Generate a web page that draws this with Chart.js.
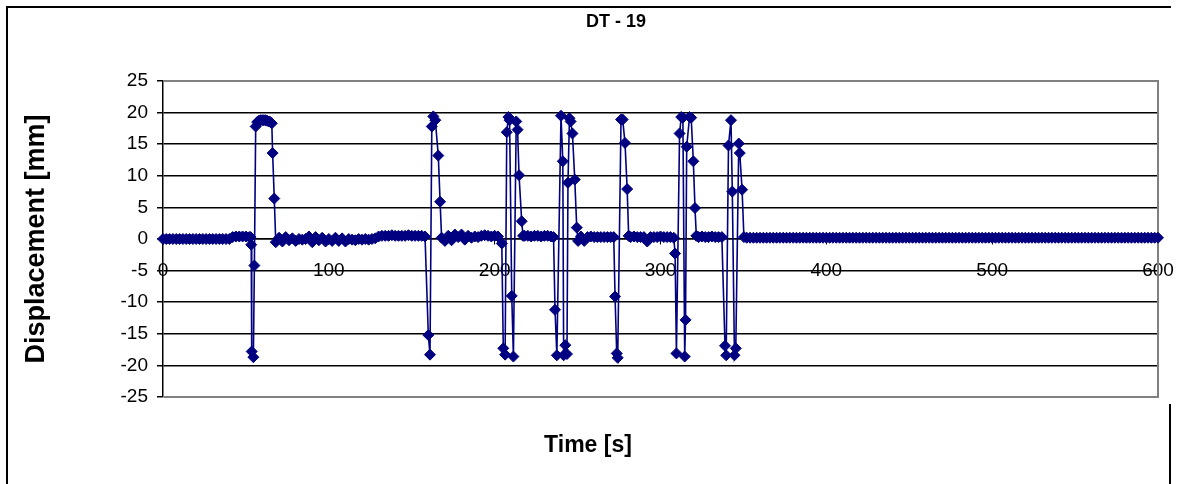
<!DOCTYPE html>
<html>
<head>
<meta charset="utf-8">
<title>DT - 19</title>
<script src="https://cdn.jsdelivr.net/npm/chart.js@4.4.1/dist/chart.umd.min.js"></script>
<style>
  html, body { margin: 0; padding: 0; background: #ffffff; }
  #wrap { position: relative; width: 1182px; height: 484px; }
</style>
</head>
<body>
<div id="wrap"><canvas id="chart"></canvas></div>
<script>
// ---- labels ----
const chartTitle = 'DT - 19';
const xAxisTitle = 'Time [s]';
const yAxisTitle = 'Displacement [mm]';

// ---- tick values ----
const xTicks = [0, 100, 200, 300, 400, 500, 600];
const yTicks = [-25, -20, -15, -10, -5, 0, 5, 10, 15, 20, 25];

// ---- measurement: time [s] ----
const timeSec = [
  0, 2, 4, 6, 8, 10, 12, 14, 16, 18, 20, 22, 24, 26, 28, 30, 32, 34, 36, 38, 40,
  42, 44, 46, 48, 50, 52, 52.8,
  53.2, 53.5, 54.5, 55.1, 55.9, 56.8, 57.8, 58.8, 59.8, 60.8, 61.8, 62.8, 63.8, 64.8, 65.6, 66.1, 67.1, 68,
  70, 72, 74, 76, 78, 80, 82, 84, 86, 88, 90, 92, 94, 96, 98, 100, 102, 104, 106, 108, 110, 112, 114, 116, 118, 120, 122, 124, 126, 128,
  130, 132, 134, 136, 138, 140, 142, 144, 146, 148, 150, 152, 154, 156, 158,
  160.0, 161.0, 162.1, 163.0, 164.2, 166.0, 167.1, 168,
  170, 172, 174, 176, 178, 180, 182, 184, 186, 188, 190, 192, 194, 196, 198, 200, 202,
  204.3, 205.2, 206.3, 207.3, 208.3, 209.0, 210.3, 211.3, 213.0, 213.8, 214.7, 216.3, 217.1,
  218, 220, 222, 224, 226, 228, 230, 232, 234, 235.5,
  236.4, 237.5, 240.0, 241.1, 241.6, 242.6, 243.6, 244.2, 245.1, 245.8, 246.9, 248.3, 249.5, 250.3,
  252, 254, 256, 258, 260, 262, 264, 266, 268, 270, 271.8,
  272.6, 273.6, 274.2, 276.2, 277.2, 278.6, 279.9, 280.8,
  282, 284, 286, 288, 290, 292, 294, 296, 298, 300, 302, 304, 306, 308,
  308.8, 309.6, 311.5, 312.5, 313.5, 314.6, 315.1, 315.8, 317.5, 318.5, 319.8, 320.8, 321.6,
  323, 325, 327, 329, 331, 333, 335, 337,
  338.9, 339.6, 341.0, 342.5, 343.3, 344.6, 345.4, 347.2, 347.8, 349.2, 350.3,
  352, 354, 356, 358, 360, 362, 364, 366, 368, 370, 372, 374, 376, 378, 380, 382, 384, 386, 388, 390, 392, 394, 396, 398, 400,
  402, 404, 406, 408, 410, 412, 414, 416, 418, 420, 422, 424, 426, 428, 430, 432, 434, 436, 438, 440, 442, 444, 446, 448, 450,
  452, 454, 456, 458, 460, 462, 464, 466, 468, 470, 472, 474, 476, 478, 480, 482, 484, 486, 488, 490, 492, 494, 496, 498, 500,
  502, 504, 506, 508, 510, 512, 514, 516, 518, 520, 522, 524, 526, 528, 530, 532, 534, 536, 538, 540, 542, 544, 546, 548, 550,
  552, 554, 556, 558, 560, 562, 564, 566, 568, 570, 572, 574, 576, 578, 580, 582, 584, 586, 588, 590, 592, 594, 596, 598, 600
];

// ---- measurement: displacement [mm] ----
const displacementMm = [
  0, 0, 0, 0, 0, 0, 0, 0, 0, 0, 0, 0, 0, 0, 0, 0, 0, 0, 0, 0, 0,
  0.3, 0.4, 0.4, 0.4, 0.4, 0.3, 0.3,
  -0.9, -17.8, -18.7, -4.2, 17.8, 18.5, 18.7, 18.8, 18.8, 18.8, 18.8, 18.7, 18.6, 18.5, 18.3, 13.6, 6.4, -0.5,
  0.2, -0.4, 0.3, -0.2, 0.1, -0.3, 0, -0.1, 0, 0.4, -0.5, 0.3, -0.2, 0.2, -0.4, 0, -0.3, 0.2, -0.3, 0.1, -0.4, 0, -0.1, -0.2, 0, -0.1, 0, -0.1, 0, 0.1,
  0.4, 0.5, 0.5, 0.5, 0.6, 0.5, 0.5, 0.5, 0.5, 0.6, 0.5, 0.5, 0.5, 0.5, 0.4,
  -15.2, -18.3, 17.8, 19.4, 18.8, 13.2, 5.9, 0.2,
  -0.3, 0.5, -0.2, 0.7, 0.3, 0.7, -0.1, 0.5, 0.2, 0.4, 0.3, 0.5, 0.6, 0.5, 0.4, 0.5, 0.4,
  -0.7, -17.3, -18.3, 16.9, 19.3, 18.8, -9.0, -18.6, 18.6, 17.3, 10.1, 2.8, 0.5,
  0.5, 0.5, 0.4, 0.5, 0.5, 0.4, 0.5, 0.5, 0.4, 0.3,
  -11.2, -18.4, 19.5, 12.3, -18.4, -16.8, -18.2, 8.9, 19.1, 18.6, 16.7, 9.4, 1.8, -0.3,
  0.4, -0.3, 0.3, 0.4, 0.3, 0.3, 0.3, 0.3, 0.3, 0.3, 0.3,
  -9.1, -18.1, -18.8, 18.9, 18.9, 15.2, 7.9, 0.5,
  0.3, 0.4, 0.3, 0.3, 0.3, -0.4, 0.3, 0.3, 0.3, 0.4, 0.3, 0.3, 0.3, 0.2,
  -2.3, -18.1, 16.7, 19.3, 19.2, -18.6, -12.8, 14.6, 19.3, 19.2, 12.3, 4.9, 0.5,
  0.3, 0.4, 0.3, 0.3, 0.4, 0.3, 0.3, 0.3,
  -16.9, -18.4, 14.8, 18.8, 7.5, -18.4, -17.3, 15.1, 13.6, 7.8, 0.3,
  0.2, 0.2, 0.2, 0.2, 0.2, 0.2, 0.2, 0.2, 0.2, 0.2, 0.2, 0.2, 0.2, 0.2, 0.2, 0.2, 0.2, 0.2, 0.2, 0.2, 0.2, 0.2, 0.2, 0.2, 0.2,
  0.2, 0.2, 0.2, 0.2, 0.2, 0.2, 0.2, 0.2, 0.2, 0.2, 0.2, 0.2, 0.2, 0.2, 0.2, 0.2, 0.2, 0.2, 0.2, 0.2, 0.2, 0.2, 0.2, 0.2, 0.2,
  0.2, 0.2, 0.2, 0.2, 0.2, 0.2, 0.2, 0.2, 0.2, 0.2, 0.2, 0.2, 0.2, 0.2, 0.2, 0.2, 0.2, 0.2, 0.2, 0.2, 0.2, 0.2, 0.2, 0.2, 0.2,
  0.2, 0.2, 0.2, 0.2, 0.2, 0.2, 0.2, 0.2, 0.2, 0.2, 0.2, 0.2, 0.2, 0.2, 0.2, 0.2, 0.2, 0.2, 0.2, 0.2, 0.2, 0.2, 0.2, 0.2, 0.2,
  0.2, 0.2, 0.2, 0.2, 0.2, 0.2, 0.2, 0.2, 0.2, 0.2, 0.2, 0.2, 0.2, 0.2, 0.2, 0.2, 0.2, 0.2, 0.2, 0.2, 0.2, 0.2, 0.2, 0.2, 0.2
];

const FONT = '"Liberation Sans", Arial, Helvetica, sans-serif';
const NAVY = '#000080';

const points = timeSec
  .slice(0, Math.min(timeSec.length, displacementMm.length))
  .map((t, i) => ({ x: t, y: displacementMm[i] }));

// Outer frame, grey plot border, chart title and time-axis title
const frameAndTitles = {
  id: 'frameAndTitles',
  beforeDatasetsDraw(chart) {
    const { ctx, chartArea: a } = chart;
    ctx.save();
    ctx.strokeStyle = '#808080';
    ctx.lineWidth = 2;
    ctx.beginPath();
    ctx.moveTo(a.left + 1, a.top);
    ctx.lineTo(a.right, a.top);
    ctx.lineTo(a.right, a.bottom);
    ctx.lineTo(a.left + 1, a.bottom);
    ctx.stroke();
    ctx.restore();
  },
  afterDraw(chart) {
    const { ctx } = chart;
    ctx.save();
    ctx.strokeStyle = '#000000';
    ctx.lineWidth = 2;
    ctx.beginPath();
    ctx.moveTo(7, 484);
    ctx.lineTo(7, 7);
    ctx.lineTo(1171, 7);
    ctx.moveTo(1170, 404);
    ctx.lineTo(1170, 484);
    ctx.stroke();

    ctx.fillStyle = '#000000';
    ctx.textAlign = 'center';
    ctx.textBaseline = 'middle';
    ctx.font = 'bold 18px ' + FONT;
    ctx.fillText(chartTitle, 616, 22);
    ctx.font = 'bold 23px ' + FONT;
    ctx.fillText(xAxisTitle, 588, 446);
    ctx.restore();
  }
};

new Chart(document.getElementById('chart'), {
  type: 'line',
  data: {
    datasets: [{
      label: chartTitle,
      data: points,
      borderColor: NAVY,
      backgroundColor: NAVY,
      borderWidth: 1.6,
      tension: 0,
      pointStyle: 'rectRot',
      pointRadius: 5.5,
      pointBackgroundColor: NAVY,
      pointBorderColor: NAVY,
      pointBorderWidth: 1,
      fill: false,
      clip: false
    }]
  },
  options: {
    responsive: true,
    maintainAspectRatio: false,
    devicePixelRatio: 1,
    animation: false,
    events: [],
    layout: { padding: { left: 0, right: 24, top: 81, bottom: 87 } },
    plugins: {
      legend: { display: false },
      title: { display: false },
      tooltip: { enabled: false }
    },
    scales: {
      x: {
        type: 'linear',
        min: 0,
        max: 600,
        position: { y: 0 },
        afterBuildTicks: s => { s.ticks = xTicks.map(v => ({ value: v })); },
        afterFit: s => { s.height = 0; },
        grid: {
          display: true,
          drawOnChartArea: false,
          drawTicks: true,
          tickLength: 5,
          color: '#000000',
          lineWidth: 1
        },
        border: { display: true, color: '#000000', width: 1.5 },
        ticks: {
          color: '#000000',
          font: { family: FONT, size: 19, lineHeight: 2.8 },
          maxRotation: 0,
          autoSkip: false,
          padding: 0
        }
      },
      y: {
        type: 'linear',
        min: -25,
        max: 25,
        afterBuildTicks: s => { s.ticks = yTicks.map(v => ({ value: v })); },
        afterFit: s => { s.width = 163; },
        grid: {
          color: c => (c.tick && Math.abs(c.tick.value) === 25) ? 'rgba(0,0,0,0)' : '#000000',
          tickColor: '#000000',
          lineWidth: 1.5,
          drawTicks: true,
          tickLength: 6
        },
        border: { display: true, color: '#000000', width: 1.5 },
        ticks: {
          color: '#000000',
          font: { family: FONT, size: 19 },
          padding: 9
        },
        title: {
          display: true,
          text: yAxisTitle,
          color: '#000000',
          font: { family: FONT, size: 27, weight: 'bold' },
          padding: { top: 20, bottom: 0 }
        }
      }
    }
  },
  plugins: [frameAndTitles]
});
</script>
</body>
</html>
